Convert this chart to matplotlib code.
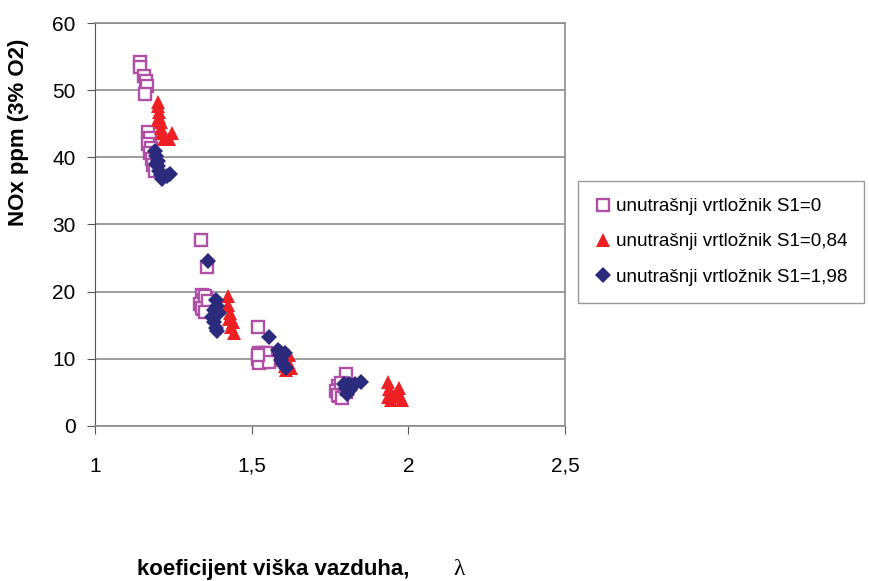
import matplotlib.pyplot as plt
from matplotlib.ticker import FuncFormatter

# S1 = 0 (open squares)
s0_lambda = [1.143, 1.143, 1.158, 1.162, 1.165, 1.160, 1.170, 1.175, 1.170, 1.180, 1.175,
             1.182, 1.185, 1.190,
             1.338, 1.357, 1.340, 1.345, 1.350, 1.345, 1.360, 1.355, 1.365,
             1.335, 1.340, 1.350, 1.360, 1.350,
             1.520, 1.525, 1.530, 1.535, 1.540, 1.545, 1.550, 1.530,
             1.520, 1.525, 1.535, 1.545, 1.555, 1.520,
             1.800, 1.775, 1.780, 1.785, 1.790, 1.800, 1.780,
             1.770, 1.775, 1.790, 1.795, 1.805, 1.785]
s0_nox = [54.2, 53.4, 52.1, 51.4, 50.6, 49.4, 43.7, 42.9, 42.0, 41.4, 40.6,
          39.8, 38.8, 38.0,
          27.7, 23.6, 19.5, 18.7, 18.0, 17.4, 17.8, 19.0, 18.3,
          18.2, 17.6, 19.3, 18.6, 17.0,
          14.7, 10.8, 10.2, 9.8, 10.5, 9.9, 10.3, 9.5,
          10.0, 9.4, 10.9, 10.8, 9.6, 10.6,
          7.7, 5.9, 5.3, 4.8, 5.6, 5.0, 4.5,
          5.2, 4.6, 4.2, 6.2, 5.5, 6.4]

# S1 = 0,84 (triangles)
s084_lambda = [1.200, 1.200, 1.205, 1.205, 1.210, 1.210, 1.215, 1.220, 1.245, 1.235, 1.200,
               1.424, 1.425, 1.430, 1.428, 1.435, 1.445, 1.440,
               1.595, 1.600, 1.605, 1.610, 1.615, 1.620, 1.625,
               1.935, 1.940, 1.935, 1.945, 1.965, 1.975, 1.980, 1.955, 1.970]
s084_nox = [48.3, 47.6, 46.8, 46.0, 45.2, 44.4, 43.6, 42.8, 43.6, 42.7, 45.5,
            19.4, 18.0, 16.8, 15.9, 14.8, 13.8, 15.5,
            10.7, 9.8, 9.0, 8.4, 9.5, 10.5, 8.6,
            6.6, 5.5, 4.3, 3.8, 5.0, 4.5, 3.8, 4.5, 5.6]

# S1 = 1,98 (diamonds)
s198_lambda = [1.190, 1.195, 1.200, 1.200, 1.205, 1.210, 1.215, 1.240, 1.230, 1.195,
               1.360, 1.385, 1.390, 1.380, 1.375, 1.380, 1.385, 1.390, 1.395,
               1.555, 1.585, 1.590, 1.595, 1.600, 1.605, 1.610, 1.590,
               1.795, 1.800, 1.805, 1.810, 1.820, 1.830, 1.850, 1.815]
s198_nox = [41.0, 40.2, 39.5, 38.7, 38.0, 37.3, 36.8, 37.5, 37.2, 39.0,
            24.6, 18.8, 17.9, 17.2, 16.3, 15.5, 14.6, 14.2, 16.8,
            13.3, 11.3, 10.5, 9.8, 9.2, 10.8, 8.6, 11.0,
            6.3, 5.7, 4.8, 6.2, 6.0, 6.3, 6.5, 5.3]

labels = ["unutrašnji vrtložnik S1=0",
          "unutrašnji vrtložnik S1=0,84",
          "unutrašnji vrtložnik S1=1,98"]
x_ticks = [1, 1.5, 2, 2.5]
y_ticks = [0, 10, 20, 30, 40, 50, 60]

plt.rcParams["font.family"] = ["Liberation Sans", "DejaVu Sans"]

fig = plt.figure(figsize=(8.69, 5.81), dpi=100)
ax = fig.add_axes([0.1093, 0.2668, 0.5408, 0.6936])

ax.plot(s0_lambda, s0_nox, linestyle="none", marker="s", markersize=8.3,
        markerfacecolor="white", markeredgecolor="#B04FA6", markeredgewidth=1.7,
        label=labels[0])
ax.plot(s084_lambda, s084_nox, linestyle="none", marker="^", markersize=10.5,
        color="#EE2024", markeredgewidth=0, label=labels[1])
ax.plot(s198_lambda, s198_nox, linestyle="none", marker="D", markersize=7.8,
        color="#2B2A7C", markeredgewidth=0, label=labels[2])

ax.set_xlim(1, 2.5)
ax.set_ylim(0, 60)
ax.set_xticks(x_ticks)
ax.set_yticks(y_ticks)
ax.xaxis.set_major_formatter(FuncFormatter(lambda v, p: f"{v:g}".replace(".", ",")))
ax.tick_params(labelsize=15, direction="out", length=6, color="#555555")
ax.tick_params(axis="x", pad=16)
ax.tick_params(axis="y", pad=8)
ax.grid(axis="y", color="#8C8C8C", linewidth=1.2)
ax.set_axisbelow(True)
for side in ["top", "right", "bottom"]:
    ax.spines[side].set_color("#8C8C8C")
    ax.spines[side].set_linewidth(1.2)
ax.spines["left"].set_color("#555555")

fig.text(0.021, 0.773, "NOx ppm (3% O2)", rotation=90, fontsize=16,
         fontweight="bold", ha="center", va="center")
fig.text(0.158, 0.019, "koeficijent viška vazduha,", fontsize=16,
         fontweight="bold", ha="left", va="center")
fig.text(0.522, 0.019, "λ", fontsize=17, family=["Liberation Serif", "DejaVu Serif"],
         ha="left", va="center")

leg = fig.legend(loc="upper left", bbox_to_anchor=(0.665, 0.6885), fontsize=13.6,
                 frameon=True, fancybox=False, edgecolor="#808080",
                 handletextpad=0.2, handlelength=0.9, labelspacing=0.95,
                 borderpad=0.9, borderaxespad=0, markerscale=1.0)
leg.get_frame().set_linewidth(1.0)

fig.savefig("out.png", dpi=100)
